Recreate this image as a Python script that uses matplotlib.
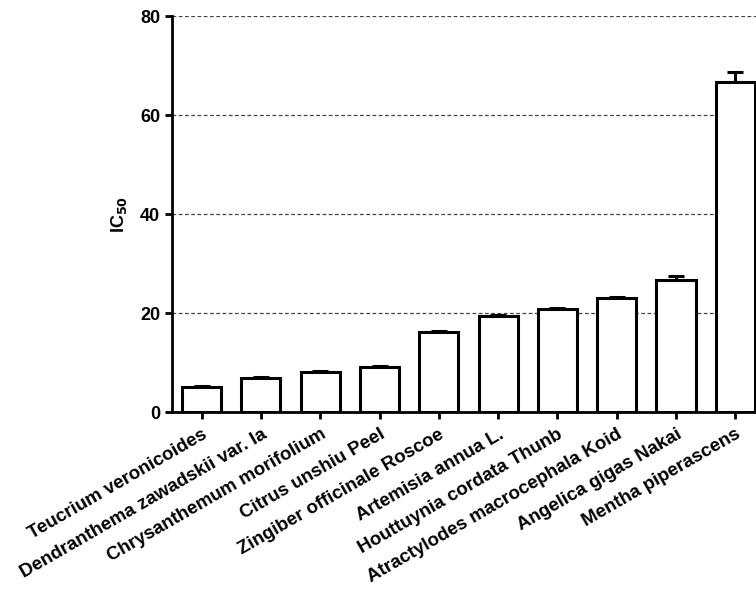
import matplotlib.pyplot as plt
import numpy as np

plt.rcParams['font.family'] = ['Liberation Sans', 'DejaVu Sans']
plt.rcParams['mathtext.default'] = 'bf'

species = ['Teucrium veronicoides', 'Dendranthema zawadskii var. la',
           'Chrysanthemum morifolium', 'Citrus unshiu Peel',
           'Zingiber officinale Roscoe', 'Artemisia annua L.',
           'Houttuynia cordata Thunb', 'Atractylodes macrocephala Koid',
           'Angelica gigas Nakai', 'Mentha piperascens']
ic50 = [5.1, 6.9, 8.2, 9.2, 16.1, 19.5, 20.9, 23.1, 26.7, 66.7]
err = [0.2, 0.2, 0.2, 0.2, 0.2, 0.2, 0.2, 0.2, 0.8, 1.9]

fig = plt.figure(figsize=(7.56, 5.93), dpi=100)
ax = fig.add_axes([0.2275, 0.305, 0.7725, 0.668])

x = np.arange(len(species))
ax.bar(x, ic50, width=0.66, color='white', edgecolor='black', linewidth=2.2, zorder=3)
ax.errorbar(x, ic50, yerr=[np.zeros(len(err)), err], fmt='none', ecolor='black',
            elinewidth=2.2, capsize=6, capthick=2.2, zorder=2)

ax.set_ylim(0, 80)
ax.set_xlim(-0.5, 9.35)
ax.set_yticks([0, 20, 40, 60, 80])
for v in [20, 40, 60, 80]:
    ax.axhline(v, color='#444444', linestyle=(0, (3, 2)), linewidth=0.9, zorder=1)

for s in ['top', 'right']:
    ax.spines[s].set_visible(False)
for s in ['left', 'bottom']:
    ax.spines[s].set_linewidth(2)

ax.tick_params(axis='both', width=2, length=5, direction='out')
ax.tick_params(axis='x', pad=5)
ax.set_xticks(x)
ax.set_xticklabels(species, rotation=30, ha='right', rotation_mode='anchor',
                   fontsize=13.5, fontweight='bold')
for lab in ax.get_yticklabels():
    lab.set_fontsize(13)
    lab.set_fontweight('bold')

ax.set_ylabel('IC$_{50}$', fontsize=13, fontweight='bold', labelpad=8)

plt.savefig('out.png', dpi=100)
